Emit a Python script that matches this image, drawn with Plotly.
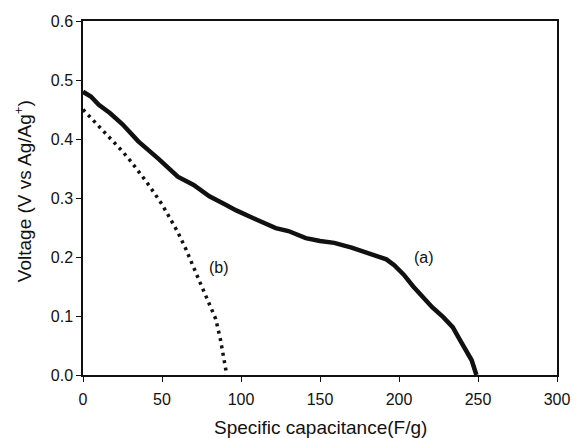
import plotly.graph_objects as go

# Curve (a): specific capacitance (F/g) vs voltage (V)
cap_a = [0, 5, 10, 17, 25, 35, 48, 60, 70, 80, 90, 97, 110, 122, 130, 141, 150,
         159, 170, 178, 185, 192, 197, 203, 209, 215, 221, 228, 234, 238, 242, 246, 249]
volt_a = [0.480, 0.472, 0.458, 0.444, 0.425, 0.396, 0.366, 0.336, 0.322, 0.303, 0.289,
          0.279, 0.263, 0.249, 0.244, 0.232, 0.227, 0.224, 0.216, 0.208, 0.202, 0.196,
          0.186, 0.170, 0.150, 0.132, 0.115, 0.098, 0.081, 0.062, 0.045, 0.025, 0.0]

# Curve (b)
cap_b = [0, 5, 10, 15, 20, 25, 30, 35, 40, 45, 50, 55, 60, 65, 70, 75, 80, 84, 87, 89, 90.5, 91]
volt_b = [0.450, 0.436, 0.423, 0.409, 0.394, 0.379, 0.363, 0.346, 0.328, 0.309, 0.289,
          0.266, 0.242, 0.214, 0.184, 0.151, 0.120, 0.095, 0.060, 0.032, 0.010, 0.0]

x_ticks = [0, 50, 100, 150, 200, 250, 300]
y_ticks = [0.0, 0.1, 0.2, 0.3, 0.4, 0.5, 0.6]

labels = ["(a)", "(b)"]
label_x = [216, 86]
label_y = [0.20, 0.183]

FONT = "Arial, Liberation Sans, sans-serif"

fig = go.Figure()
fig.add_trace(go.Scatter(x=cap_a, y=volt_a, mode="lines",
                         line=dict(color="#111111", width=4.5), showlegend=False))
fig.add_trace(go.Scatter(x=cap_b, y=volt_b, mode="lines",
                         line=dict(color="#111111", width=3.5, dash="3px,4.5px"),
                         showlegend=False))

for t, lx, ly in zip(labels, label_x, label_y):
    fig.add_annotation(x=lx, y=ly, text=t, showarrow=False,
                       font=dict(family=FONT, size=16, color="#111111"))

fig.add_annotation(xref="paper", yref="paper", x=0.5, y=-0.147,
                   text="Specific capacitance(F/g)", showarrow=False,
                   xanchor="center", yanchor="middle",
                   font=dict(family=FONT, size=19, color="#111111"))
fig.add_annotation(xref="paper", yref="paper", x=-0.126, y=0.52,
                   text="Voltage (V vs Ag/Ag<sup>+</sup>)", showarrow=False,
                   textangle=-90, xanchor="center", yanchor="middle",
                   font=dict(family=FONT, size=19, color="#111111"))

axis_common = dict(showgrid=False, zeroline=False, showline=True, linecolor="#111111",
                   linewidth=1.5, mirror=True, ticks="outside", ticklen=5,
                   tickwidth=1, tickcolor="#111111",
                   tickfont=dict(family=FONT, size=16, color="#111111"))

fig.update_xaxes(range=[0, 300], tickvals=x_ticks, ticklabelstandoff=4, **axis_common)
fig.update_yaxes(range=[0, 0.6], tickvals=y_ticks, tickformat=".1f", **axis_common)

fig.update_layout(width=582, height=438,
                  margin=dict(l=83, r=15, t=21, b=63),
                  paper_bgcolor="white", plot_bgcolor="white")

fig.write_html("out.html")
